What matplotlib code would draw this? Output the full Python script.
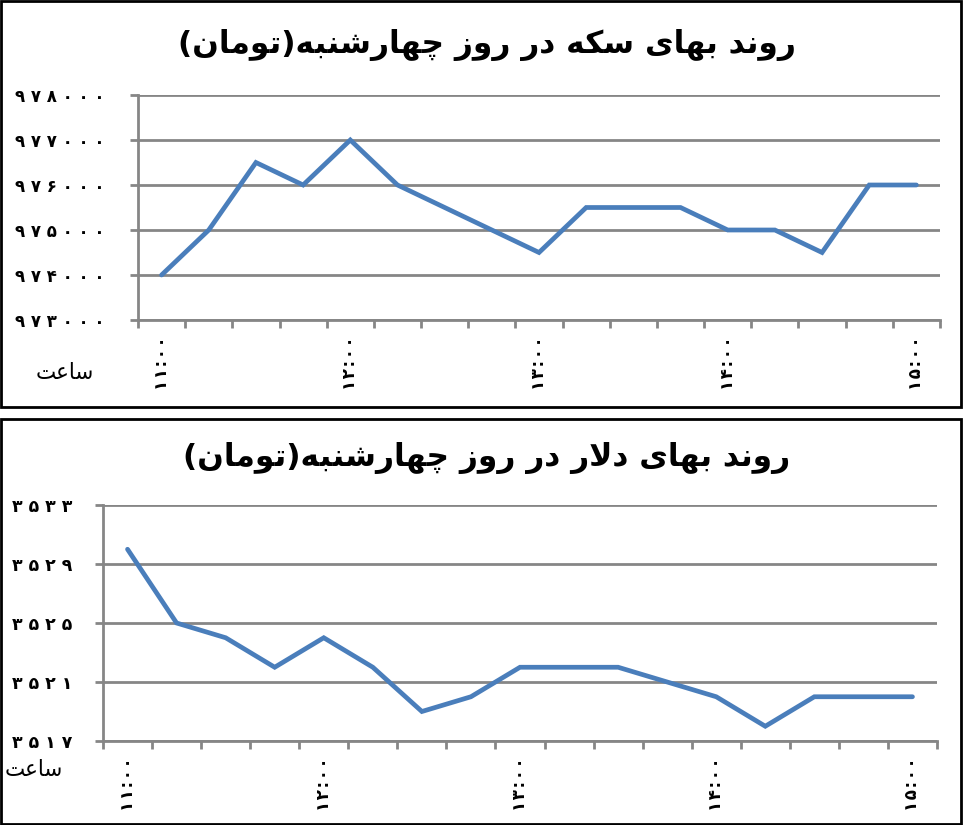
import matplotlib
matplotlib.use('Agg')
import matplotlib.pyplot as plt
from matplotlib.patches import Rectangle

times = ['۱۱:۰۰', '', '', '', '۱۲:۰۰', '', '', '', '۱۳:۰۰', '', '', '', '۱۴:۰۰', '', '', '', '۱۵:۰۰']
coin = [974000, 975000, 976500, 976000, 977000, 976000, 975500, 975000, 974500,
        975500, 975500, 975500, 975000, 975000, 974500, 976000, 976000]
coin_ticks = [973000, 974000, 975000, 976000, 977000, 978000]
dollar = [3530, 3525, 3524, 3522, 3524, 3522, 3519, 3520, 3522,
          3522, 3522, 3521, 3520, 3518, 3520, 3520, 3520]
dollar_ticks = [3517, 3521, 3525, 3529, 3533]

title_coin = 'روند بهای سکه در روز چهارشنبه(تومان)'
title_dollar = 'روند بهای دلار در روز چهارشنبه(تومان)'
hour_label = 'ساعت'

# matplotlib has no arabic shaping, so do a tiny one by hand
FORMS = {
    'ا': (0xFE8D, 0xFE8E, None, None),
    'ب': (0xFE8F, 0xFE90, 0xFE91, 0xFE92),
    'ت': (0xFE95, 0xFE96, 0xFE97, 0xFE98),
    'چ': (0xFB7A, 0xFB7B, 0xFB7C, 0xFB7D),
    'د': (0xFEA9, 0xFEAA, None, None),
    'ر': (0xFEAD, 0xFEAE, None, None),
    'ز': (0xFEAF, 0xFEB0, None, None),
    'س': (0xFEB1, 0xFEB2, 0xFEB3, 0xFEB4),
    'ش': (0xFEB5, 0xFEB6, 0xFEB7, 0xFEB8),
    'ع': (0xFEC9, 0xFECA, 0xFECB, 0xFECC),
    'ک': (0xFB8E, 0xFB8F, 0xFB90, 0xFB91),
    'ل': (0xFEDD, 0xFEDE, 0xFEDF, 0xFEE0),
    'م': (0xFEE1, 0xFEE2, 0xFEE3, 0xFEE4),
    'ن': (0xFEE5, 0xFEE6, 0xFEE7, 0xFEE8),
    'ه': (0xFEE9, 0xFEEA, 0xFEEB, 0xFEEC),
    'و': (0xFEED, 0xFEEE, None, None),
    'ی': (0xFBFC, 0xFBFD, 0xFBFE, 0xFBFF),
}


def shape(s):
    out = []
    chars = list(s)
    i = 0
    while i < len(chars):
        c = chars[i]
        if c not in FORMS:
            out.append(c)
            i += 1
            continue
        prev = chars[i - 1] if i > 0 else ''
        joins_prev = prev in FORMS and FORMS[prev][2] is not None
        if c == 'ل' and i + 1 < len(chars) and chars[i + 1] == 'ا':
            out.append(chr(0xFEFC if joins_prev else 0xFEFB))
            i += 2
            continue
        nxt = chars[i + 1] if i + 1 < len(chars) else ''
        joins_next = nxt in FORMS and FORMS[c][2] is not None
        iso, fin, ini, med = FORMS[c]
        if joins_prev and joins_next:
            out.append(chr(med))
        elif joins_prev:
            out.append(chr(fin))
        elif joins_next:
            out.append(chr(ini))
        else:
            out.append(chr(iso))
        i += 1
    vis = ''.join(out)[::-1]
    return vis.translate(str.maketrans('()', ')('))


def fa_digits(n):
    return ' '.join(chr(0x06F0 + int(d)) for d in str(n))


W, H = 963, 825
fig = plt.figure(figsize=(W / 100, H / 100), dpi=100)
plt.rcParams['font.family'] = ['DejaVu Sans']

grid_c = '#868686'
line_c = '#4A7EBB'


def panel(box, area, values, yticks, title, tick_size, ypad, title_y, hour_xy):
    x0, y0, x1, y1 = box
    fig.patches.append(Rectangle((x0 / W, 1 - y1 / H), (x1 - x0) / W, (y1 - y0) / H,
                                 transform=fig.transFigure, fill=False,
                                 edgecolor='black', linewidth=2))
    l, t, r, b = area
    ax = fig.add_axes([l / W, 1 - b / H, (r - l) / W, (b - t) / H])
    n = len(values)
    ax.plot(range(n), values, color=line_c, linewidth=3.4, solid_capstyle='round',
            solid_joinstyle='miter')
    ax.set_xlim(-0.5, n - 0.5)
    ax.set_ylim(yticks[0], yticks[-1])
    ax.set_yticks(yticks)
    ax.set_yticklabels([fa_digits(v) for v in yticks], fontsize=tick_size,
                       fontweight='bold')
    ax.set_xticks([i for i in range(n) if times[i]])
    ax.set_xticklabels(['\u200a'.join(t) for t in times if t], rotation=90,
                       fontsize=12, fontweight='bold')
    ax.set_xticks([i - 0.5 for i in range(n + 1)], minor=True)
    ax.tick_params(axis='x', which='major', length=0, pad=12)
    ax.tick_params(axis='x', which='minor', length=6, width=2, color=grid_c)
    ax.tick_params(axis='y', length=6, width=2, color=grid_c, pad=ypad)
    ax.yaxis.grid(True, color=grid_c, linewidth=2)
    ax.set_axisbelow(True)
    for s in ['top', 'right']:
        ax.spines[s].set_visible(False)
    for s in ['left', 'bottom']:
        ax.spines[s].set_color(grid_c)
        ax.spines[s].set_linewidth(2)
    fig.text(487 / W, 1 - title_y / H, shape(title), ha='center',
             va='center', fontsize=22.5, fontweight='bold')
    fig.text(hour_xy[0] / W, 1 - hour_xy[1] / H, shape(hour_label), ha='center',
             va='center', fontsize=15.5)
    return ax


panel((1, 1, 961, 407), (138, 95, 940, 320), coin, coin_ticks, title_coin, 12, 18, 45, (65, 373))
panel((1, 419, 961, 824), (103, 505, 937, 741), dollar, dollar_ticks, title_dollar, 12.5, 16, 458, (34, 770))

plt.savefig('out.png', dpi=100)
